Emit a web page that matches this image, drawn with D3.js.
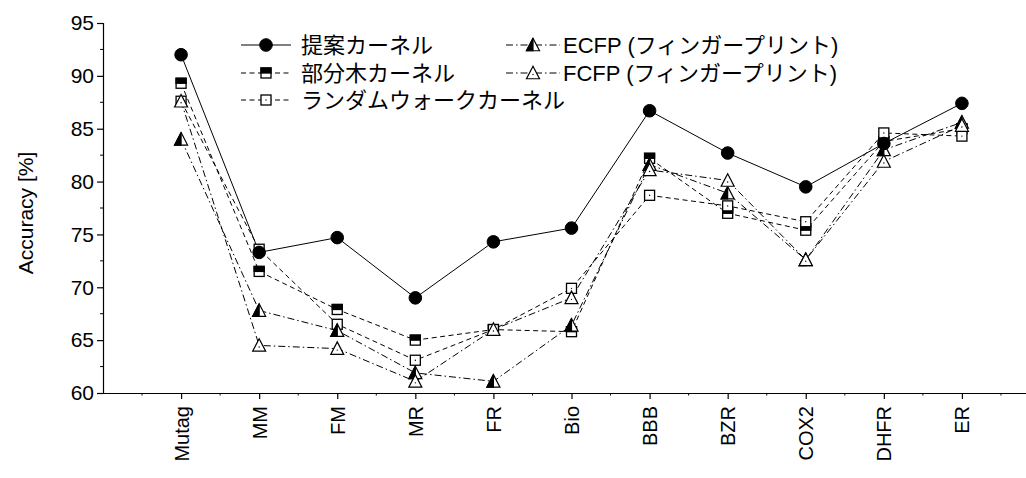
<!DOCTYPE html>
<html>
<head>
<meta charset="utf-8">
<script src="https://cdn.jsdelivr.net/npm/d3@7"></script>
<style>
  html, body { margin: 0; padding: 0; background: #fff; }
  svg text { font-family: "Liberation Sans", Arial, "Noto Sans CJK JP", sans-serif; fill: #000; }
</style>
</head>
<body>
<svg id="chart" width="1026" height="478"></svg>
<script>
// Datasets along the x axis
const categories = ["Mutag", "MM", "FM", "MR", "FR", "Bio", "BBB", "BZR", "COX2", "DHFR", "ER"];

// Accuracy [%] per method
const proposedKernel = [92.0, 73.3, 74.7, 69.0, 74.3, 75.6, 86.7, 82.7, 79.5, 83.6, 87.4];
const subtreeKernel  = [89.3, 71.5, 67.9, 65.0, 66.0, 65.8, 82.2, 77.0, 75.4, 83.8, 85.0];
const randomWalk     = [87.6, 73.6, 66.5, 63.1, 66.0, 69.9, 78.7, 77.7, 76.2, 84.6, 84.3];
const ecfp           = [84.0, 67.8, 65.9, 61.9, 61.1, 66.4, 81.6, 78.9, 72.6, 83.0, 85.6];
const fcfp           = [87.6, 64.5, 64.2, 61.1, 66.0, 69.0, 81.1, 80.1, 72.6, 81.9, 85.3];

const seriesNames = ["提案カーネル", "部分木カーネル", "ランダムウォークカーネル",
                     "ECFP (フィンガープリント)", "FCFP (フィンガープリント)"];

const yTicks = [60, 65, 70, 75, 80, 85, 90, 95];

const svg = d3.select("#chart");

const x = d3.scaleLinear().domain([0, 12]).range([103, 1040]);
const y = d3.scaleLinear().domain([60, 95]).range([393, 23]);

// ---- marker painters ----
function markCircle(g, cx, cy) {
  g.append("circle").attr("cx", cx).attr("cy", cy).attr("r", 6.3)
    .attr("fill", "#000").attr("stroke", "#000").attr("stroke-width", 1);
}
function markHalfSquare(g, cx, cy) {
  const s = 10;
  g.append("rect").attr("x", cx - s / 2).attr("y", cy - s / 2).attr("width", s).attr("height", s)
    .attr("fill", "#fff").attr("stroke", "#000").attr("stroke-width", 1.3);
  g.append("rect").attr("x", cx - s / 2).attr("y", cy - s / 2).attr("width", s).attr("height", s / 2)
    .attr("fill", "#000").attr("stroke", "#000").attr("stroke-width", 1.3);
}
function markDotSquare(g, cx, cy) {
  const s = 10;
  g.append("rect").attr("x", cx - s / 2).attr("y", cy - s / 2).attr("width", s).attr("height", s)
    .attr("fill", "#fff").attr("stroke", "#000").attr("stroke-width", 1.3);
  g.append("circle").attr("cx", cx).attr("cy", cy).attr("r", 0.7).attr("fill", "#000");
}
function triPath(cx, cy) {
  const w = 13, h = 11.5;
  return `M${cx},${cy - h / 2 - 1}L${cx + w / 2},${cy + h / 2}L${cx - w / 2},${cy + h / 2}Z`;
}
function markHalfTriangle(g, cx, cy) {
  const w = 13, h = 11.5;
  g.append("path").attr("d", triPath(cx, cy))
    .attr("fill", "#fff").attr("stroke", "#000").attr("stroke-width", 1.2).attr("stroke-linejoin", "miter");
  g.append("path").attr("d", `M${cx},${cy - h / 2 - 1}L${cx},${cy + h / 2}L${cx - w / 2},${cy + h / 2}Z`)
    .attr("fill", "#000").attr("stroke", "#000").attr("stroke-width", 1.2);
}
function markOpenTriangle(g, cx, cy) {
  g.append("path").attr("d", triPath(cx, cy))
    .attr("fill", "#fff").attr("stroke", "#000").attr("stroke-width", 1.2).attr("stroke-linejoin", "miter");
  g.append("circle").attr("cx", cx).attr("cy", cy + 1.5).attr("r", 0.7).attr("fill", "#000");
}

const dashed = "5,3.5";
const dashDot = "7,3,1.5,3";

const series = [
  { name: seriesNames[0], values: proposedKernel, dash: null,    marker: markCircle },
  { name: seriesNames[1], values: subtreeKernel,  dash: dashed,  marker: markHalfSquare },
  { name: seriesNames[2], values: randomWalk,     dash: dashed,  marker: markDotSquare },
  { name: seriesNames[3], values: ecfp,           dash: dashDot, marker: markHalfTriangle },
  { name: seriesNames[4], values: fcfp,           dash: dashDot, marker: markOpenTriangle }
];

// ---- axes ----
const yAxis = d3.axisLeft(y).tickValues(yTicks).tickSize(6).tickPadding(3);
const gy = svg.append("g").attr("transform", `translate(${x(0)},0)`).call(yAxis);
gy.select(".domain").attr("stroke", "#000").attr("stroke-width", 1.2);
gy.selectAll(".tick line").attr("stroke", "#000").attr("stroke-width", 1.2);
gy.selectAll(".tick text").attr("font-size", 21).attr("font-family", "Liberation Sans, Arial, sans-serif");
// minor y ticks
svg.append("g").selectAll("line")
  .data(d3.range(62.5, 95, 5))
  .join("line")
  .attr("x1", x(0) - 3).attr("x2", x(0))
  .attr("y1", d => y(d)).attr("y2", d => y(d))
  .attr("stroke", "#000").attr("stroke-width", 1);

const xAxis = d3.axisBottom(x)
  .tickValues(d3.range(1, categories.length + 1))
  .tickFormat(i => categories[i - 1])
  .tickSize(6).tickSizeOuter(0);
const gx = svg.append("g").attr("transform", `translate(0,${y(60)})`).call(xAxis);
gx.select(".domain").attr("stroke", "#000").attr("stroke-width", 1.2);
gx.selectAll(".tick line").attr("stroke", "#000").attr("stroke-width", 1.2);
gx.selectAll(".tick text")
  .attr("font-size", 20)
  .attr("font-family", "Liberation Sans, Arial, sans-serif")
  .attr("text-anchor", "end")
  .attr("transform", "rotate(-90)")
  .attr("x", -13).attr("y", 0).attr("dy", "0.35em");
// minor x ticks
svg.append("g").selectAll("line")
  .data(d3.range(0.5, 12.5, 1))
  .join("line")
  .attr("x1", d => x(d)).attr("x2", d => x(d))
  .attr("y1", y(60)).attr("y2", y(60) + 2.5)
  .attr("stroke", "#000").attr("stroke-width", 1);

// axis title
svg.append("text")
  .attr("transform", `translate(33,${(y(60) + y(95)) / 2 + 5}) rotate(-90)`)
  .attr("text-anchor", "middle")
  .attr("font-size", 21)
  .text("Accuracy [%]");

// ---- lines and markers ----
const line = d3.line().x((d, i) => x(i + 1)).y(d => y(d));
const drawOrder = [1, 2, 3, 4, 0];

drawOrder.forEach(k => {
  const s = series[k];
  svg.append("path")
    .datum(s.values)
    .attr("d", line)
    .attr("fill", "none")
    .attr("stroke", "#000")
    .attr("stroke-width", 1)
    .attr("stroke-dasharray", s.dash);
});
drawOrder.forEach(k => {
  const s = series[k];
  const g = svg.append("g");
  s.values.forEach((v, i) => s.marker(g, x(i + 1), y(v)));
});

// ---- legend ----
const legendRows = [
  { s: 0, lx: 241, mx: 266, tx: 301, ly: 45 },
  { s: 1, lx: 241, mx: 266, tx: 301, ly: 73 },
  { s: 2, lx: 241, mx: 266, tx: 301, ly: 100 },
  { s: 3, lx: 506, mx: 533, tx: 563, ly: 45 },
  { s: 4, lx: 506, mx: 533, tx: 563, ly: 73 }
];
legendRows.forEach(r => {
  const s = series[r.s];
  const g = svg.append("g");
  const lineLen = r.s >= 3 ? 54 : 50;
  g.append("line")
    .attr("x1", r.lx).attr("x2", r.lx + lineLen)
    .attr("y1", r.ly).attr("y2", r.ly)
    .attr("stroke", "#000").attr("stroke-width", 1)
    .attr("stroke-dasharray", s.dash);
  s.marker(g, r.mx, r.ly);
  g.append("text")
    .attr("x", r.tx).attr("y", r.ly).attr("dy", "0.36em")
    .attr("font-size", 22)
    .text(s.name);
});
</script>
</body>
</html>
